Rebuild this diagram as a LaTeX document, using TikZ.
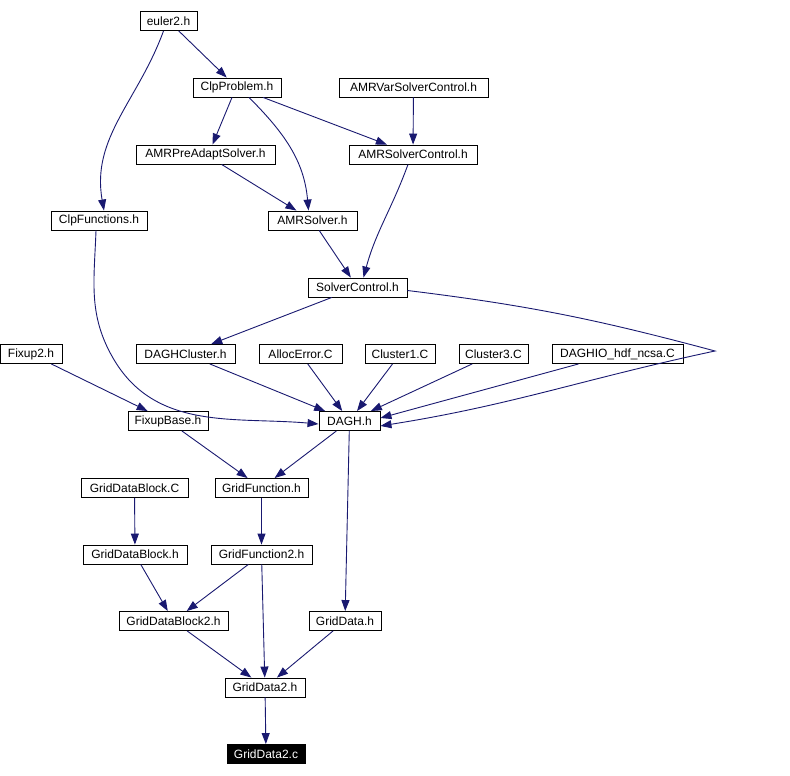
\documentclass[tikz,border=0pt]{standalone}
\usepackage{fontspec}
\setmainfont{Liberation Sans}
\usetikzlibrary{arrows.meta}
\definecolor{edgeblue}{RGB}{25,25,112}
\tikzset{
  file/.style={draw=black, line width=0.9pt, fill=white, minimum height=19pt,
    inner sep=0pt, font=\fontsize{12}{13}\selectfont},
  current/.style={file, fill=black, text=white},
  dep/.style={draw=edgeblue, line width=0.9pt,
    -{Triangle[length=11pt,width=8pt]}},
}
\begin{document}
\begin{tikzpicture}[x=1pt, y=-1pt]
    \useasboundingbox (0,0) rectangle (790,776);
    % headers and sources
    \node[file, minimum width=57pt]  (euler)    at (168.5,21)  {euler2.h};
    \node[file, minimum width=88pt]  (clpprob)  at (237,87.5)  {ClpProblem.h};
    \node[file, minimum width=149pt] (amrvar)   at (413.5,87.5) {AMRVarSolverControl.h};
    \node[file, minimum width=139pt] (amrpre)   at (205.5,154.5) {AMRPreAdaptSolver.h};
    \node[file, minimum width=128pt] (amrsc)    at (413,154.5) {AMRSolverControl.h};
    \node[file, minimum width=96pt]  (clpfun)   at (99,220.5)  {ClpFunctions.h};
    \node[file, minimum width=89pt]  (amrsol)   at (312.5,220.5) {AMRSolver.h};
    \node[file, minimum width=99pt]  (solvctl)  at (357.5,287.5) {SolverControl.h};
    \node[file, minimum width=62pt]  (fixup)    at (31,354)    {Fixup2.h};
    \node[file, minimum width=99pt]  (daghcl)   at (185.5,354) {DAGHCluster.h};
    \node[file, minimum width=83pt]  (alloc)    at (300.5,354) {AllocError.C};
    \node[file, minimum width=70pt]  (clone)    at (400,354)   {Cluster1.C};
    \node[file, minimum width=69pt]  (clthree)  at (493.5,354) {Cluster3.C};
    \node[file, minimum width=131pt] (daghio)   at (617.5,354) {DAGHIO\_hdf\_ncsa.C};
    \node[file, minimum width=80pt]  (fixbase)  at (168,421)   {FixupBase.h};
    \node[file, minimum width=61pt]  (dagh)     at (349.5,421) {DAGH.h};
    \node[file, minimum width=107pt] (gdbc)     at (134.5,488) {GridDataBlock.C};
    \node[file, minimum width=93pt]  (gfun)     at (261.5,488) {GridFunction.h};
    \node[file, minimum width=104pt] (gdbh)     at (135,554.5) {GridDataBlock.h};
    \node[file, minimum width=101pt] (gfuntwo)  at (261.5,554.5) {GridFunction2.h};
    \node[file, minimum width=109pt] (gdbtwo)   at (173.5,621) {GridDataBlock2.h};
    \node[file, minimum width=72pt]  (gdata)    at (345,621)   {GridData.h};
    \node[file, minimum width=80pt]  (gdtwoh)   at (265,687.5) {GridData2.h};
    \node[current, minimum width=78pt] (gdtwoc) at (266,754)   {GridData2.c};
    \coordinate (bend) at (715,351);
    \coordinate (knee) at (113,358);

    % include edges
    \draw[dep] (euler) -- (clpprob);
    \draw[dep] ([xshift=-5pt]euler.south) to[out=-110, in=100] ([xshift=5pt]clpfun.north);
    \draw[dep] ([xshift=-5pt]clpprob.south) -- ([xshift=7pt]amrpre.north);
    \draw[dep] ([xshift=12pt]clpprob.south) to[out=-45, in=95] ([xshift=-4pt]amrsol.north);
    \draw[dep] (clpprob) -- (amrsc);
    \draw[dep] (amrvar) -- (amrsc);
    \draw[dep] (amrpre) -- (amrsol);
    \draw[dep] (amrsol) -- (solvctl);
    \draw[dep] ([xshift=-5pt]amrsc.south) to[out=-110, in=75] ([xshift=6pt]solvctl.north);
    \draw[dep] (solvctl) -- (daghcl);
    \draw[dep] ([yshift=-3pt]solvctl.east) to[out=-7, in=165] (bend)
      to[out=-168, in=9] ([yshift=5pt]dagh.south east);
    \draw[dep] ([xshift=-3pt]clpfun.south) to[out=-92, in=120] (knee)
      to[out=-60, in=175] ([yshift=-3pt]dagh.west);
    \draw[dep] (daghcl) -- (dagh);
    \draw[dep] (alloc) -- (dagh);
    \draw[dep] (clone) -- (dagh);
    \draw[dep] (clthree) -- (dagh);
    \draw[dep] ([xshift=-39pt]daghio.south) -- ([yshift=3pt]dagh.east);
    \draw[dep] (fixup) -- (fixbase);
    \draw[dep] (fixbase) -- (gfun);
    \draw[dep] (dagh) -- (gfun);
    \draw[dep] (dagh) -- (gdata);
    \draw[dep] (gdbc) -- (gdbh);
    \draw[dep] (gfun) -- (gfuntwo);
    \draw[dep] (gdbh) -- (gdbtwo);
    \draw[dep] (gfuntwo) -- (gdbtwo);
    \draw[dep] (gfuntwo) -- (gdtwoh);
    \draw[dep] (gdbtwo) -- (gdtwoh);
    \draw[dep] (gdata) -- (gdtwoh);
    \draw[dep] (gdtwoh) -- (gdtwoc);
\end{tikzpicture}
\end{document}
